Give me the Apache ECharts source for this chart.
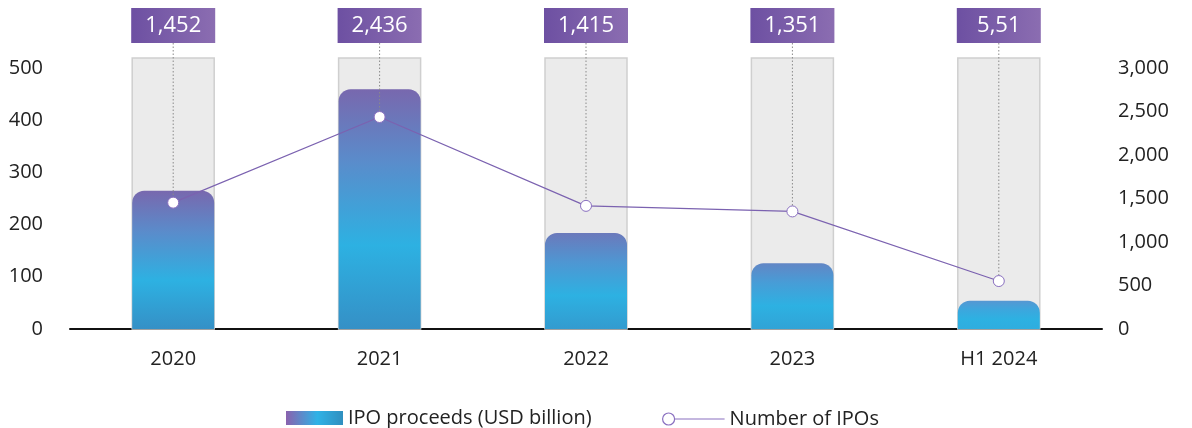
<!DOCTYPE html>
<html>
<head>
<meta charset="utf-8">
<script src="https://cdn.jsdelivr.net/npm/echarts@6/dist/echarts.min.js"></script>
<style>
html,body{margin:0;padding:0;background:#fff;}
#chart{width:1192px;height:428px;}
</style>
</head>
<body>
<div id="chart"></div>
<script>
const categories = ['2020', '2021', '2022', '2023', 'H1 2024'];
const proceeds = [265, 459, 184, 126, 54];
const ipoCounts = [1452, 2436, 1415, 1351, 551];
const countLabels = ['1,452', '2,436', '1,415', '1,351', '5,51'];
const leftTicks = [0, 100, 200, 300, 400, 500];
const rightTicks = [0, 500, 1000, 1500, 2000, 2500, 3000];

const FONT = '"Open Sans", "Noto Sans", sans-serif';
const chart = echarts.init(document.getElementById('chart'));

function mix(a, b, t) {
  const pa = [parseInt(a.slice(1,3),16), parseInt(a.slice(3,5),16), parseInt(a.slice(5,7),16)];
  const pb = [parseInt(b.slice(1,3),16), parseInt(b.slice(3,5),16), parseInt(b.slice(5,7),16)];
  return 'rgb(' + pa.map((v,i)=>Math.round(v + (pb[i]-v)*t)).join(',') + ')';
}
function barColor(value) {
  const t = Math.min(1, value / 260);
  const top = mix('#4da3db', '#7868ae', t);
  return new echarts.graphic.LinearGradient(0, 0, 0, 1, [
    { offset: 0, color: top },
    { offset: 0.3, color: mix('#35ade2', '#5a8ccb', t) },
    { offset: 0.65, color: '#2db1e2' },
    { offset: 1, color: mix('#2db4e6', '#3590c6', t) }
  ]);
}

const leftMax = 519;
const rightMax = 3000 * leftMax / 500;

chart.setOption({
  animation: false,
  textStyle: { fontFamily: FONT },
  grid: { left: 70, right: 90, top: 58, bottom: 99 },
  legend: [
    {
      left: 281, top: 403,
      itemWidth: 57, itemHeight: 14,
      icon: 'rect',
      textStyle: { fontSize: 20, color: '#222', fontFamily: FONT },
      data: [{
        name: 'IPO proceeds (USD billion)',
        itemStyle: {
          color: new echarts.graphic.LinearGradient(0, 0, 1, 0, [
            { offset: 0, color: '#8a62ae' },
            { offset: 0.55, color: '#2fb2e6' },
            { offset: 1, color: '#2f8fbf' }
          ])
        }
      }]
    },
    {
      left: 657, top: 404,
      itemWidth: 62, itemHeight: 12,
      textStyle: { fontSize: 20, color: '#222', fontFamily: FONT },
      data: [{
        name: 'Number of IPOs',
        icon: 'path://M0,6.5a6,6 0 1,0 12,0a6,6 0 1,0 -12,0M12,6.5L62,6.5',
        itemStyle: { color: '#ffffff', borderColor: '#8a70c0', borderWidth: 1.2 }
      }]
    }
  ],
  xAxis: {
    type: 'category',
    data: categories,
    axisLine: { lineStyle: { color: '#111', width: 2 } },
    axisTick: { show: false },
    axisLabel: { fontSize: 20, color: '#222', margin: 20, fontFamily: FONT }
  },
  yAxis: [
    {
      type: 'value', min: 0, max: leftMax, interval: 100,
      splitLine: { show: false }, axisLine: { show: false }, axisTick: { show: false },
      axisLabel: {
        fontSize: 20, color: '#222', margin: 27, fontFamily: FONT, showMaxLabel: false,
        formatter: v => leftTicks.indexOf(v) >= 0 ? String(v) : ''
      }
    },
    {
      type: 'value', min: 0, max: rightMax, interval: 500,
      splitLine: { show: false }, axisLine: { show: false }, axisTick: { show: false },
      axisLabel: {
        fontSize: 20, color: '#222', margin: 16, fontFamily: FONT, showMaxLabel: false,
        formatter: v => rightTicks.indexOf(v) >= 0 ? v.toLocaleString('en-US') : ''
      }
    }
  ],
  series: [
    {
      name: 'IPO proceeds (USD billion)',
      type: 'bar',
      yAxisIndex: 0,
      data: proceeds,
      barWidth: 82,
      showBackground: true,
      backgroundStyle: { color: '#ebebeb', borderColor: '#cfcfcf', borderWidth: 1.5 },
      itemStyle: {
        color: p => barColor(p.value),
        borderRadius: [12, 12, 0, 0]
      },
      z: 2
    },
    {
      name: 'top-labels',
      type: 'custom',
      yAxisIndex: 1,
      clip: false,
      silent: true,
      z: 4,
      data: ipoCounts.map((c, i) => [i, c]),
      renderItem: function (params, api) {
        const i = api.value(0);
        const p = api.coord([i, api.value(1)]);
        const w = 84, h = 35, top = 8;
        return {
          type: 'group',
          children: [
            {
              type: 'line',
              shape: { x1: p[0], y1: top + h, x2: p[0], y2: p[1] },
              style: { stroke: '#8a8a8a', lineWidth: 1, lineDash: [1.5, 2] }
            },
            {
              type: 'rect',
              shape: { x: p[0] - w / 2, y: top, width: w, height: h },
              style: {
                fill: new echarts.graphic.LinearGradient(0, 0, 1, 0, [
                  { offset: 0, color: '#6d50a2' },
                  { offset: 1, color: '#8b6db1' }
                ])
              }
            },
            {
              type: 'text',
              x: p[0], y: top + h / 2,
              style: {
                text: countLabels[i],
                fill: '#ffffff',
                fontSize: 22,
                fontFamily: FONT,
                align: 'center',
                verticalAlign: 'middle'
              }
            }
          ]
        };
      }
    },
    {
      name: 'Number of IPOs',
      type: 'line',
      yAxisIndex: 1,
      data: ipoCounts,
      symbol: 'circle',
      symbolSize: 11,
      lineStyle: { color: '#7b62b0', width: 1.2 },
      itemStyle: { color: '#ffffff', borderColor: '#8a70c0', borderWidth: 1 },
      z: 5
    }
  ]
});
</script>
</body>
</html>
